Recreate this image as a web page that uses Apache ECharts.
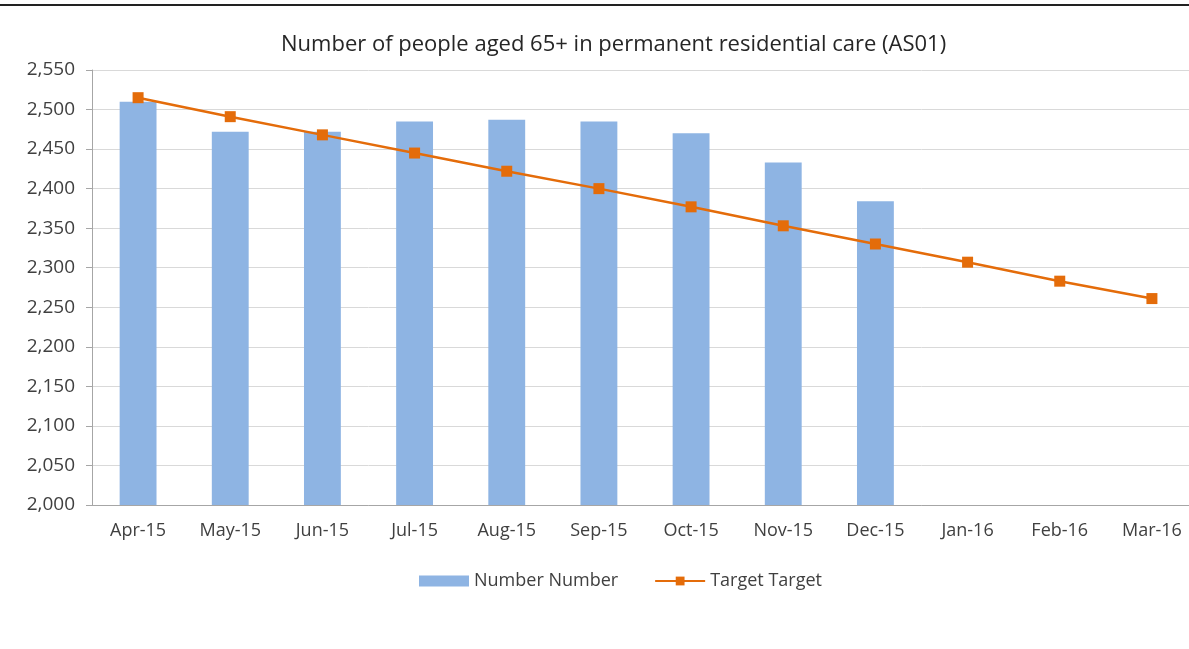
<!DOCTYPE html>
<html>
<head>
<meta charset="utf-8">
<script src="https://cdn.jsdelivr.net/npm/echarts@6/dist/echarts.min.js"></script>
<style>
  html, body { margin: 0; padding: 0; background: #fff; overflow: hidden; }
  #chart { width: 1198px; height: 649px; }
  .topline { position: absolute; left: 0; top: 4px; width: 1189px; height: 2px; background: #222; z-index: 2; }
</style>
</head>
<body>
<div class="topline"></div>
<div id="chart"></div>
<script>
const months = ['Apr-15', 'May-15', 'Jun-15', 'Jul-15', 'Aug-15', 'Sep-15', 'Oct-15', 'Nov-15', 'Dec-15', 'Jan-16', 'Feb-16', 'Mar-16']
const numberValues = [2510, 2472, 2472, 2485, 2487, 2485, 2470, 2433, 2384, null, null, null]
const targetValues = [2515, 2491, 2468, 2445, 2422, 2400, 2377, 2353, 2330, 2307, 2283, 2261]

const font = '"Open Sans", "Noto Sans", sans-serif'
const chart = echarts.init(document.getElementById('chart'))

chart.setOption({
  animation: false,
  title: {
    text: 'Number of people aged 65+ in permanent residential care (AS01)',
    left: 276,
    top: 29,
    textStyle: { fontFamily: font, fontSize: 22, fontWeight: 'normal', color: '#262626' },
  },
  legend: {
    top: 567,
    left: 414,
    itemGap: 36,
    itemWidth: 50,
    itemHeight: 11,
    textStyle: { fontFamily: font, fontSize: 18, color: '#404040' },
    data: [
      { name: 'Number Number', icon: 'rect' },
      { name: 'Target Target' },
    ],
  },
  grid: { left: 92, right: 0, top: 70, bottom: 144 },
  xAxis: {
    type: 'category',
    data: months,
    axisLine: { lineStyle: { color: '#a6a6a6' } },
    axisTick: { length: 6, lineStyle: { color: '#a6a6a6' } },
    axisLabel: { fontFamily: font, fontSize: 18, color: '#404040', margin: 17 },
  },
  yAxis: {
    type: 'value',
    min: 2000,
    max: 2550,
    interval: 50,
    axisLine: { show: true, lineStyle: { color: '#a6a6a6' } },
    axisTick: { show: true, length: 6, lineStyle: { color: '#a6a6a6' } },
    axisLabel: {
      fontFamily: font,
      fontSize: 19,
      color: '#404040',
      margin: 17,
      formatter: (v) => v.toLocaleString('en-US'),
    },
    splitLine: { lineStyle: { color: '#d9d9d9' } },
  },
  series: [
    {
      name: 'Number Number',
      type: 'bar',
      data: numberValues,
      barWidth: '40%',
      itemStyle: { color: '#8eb4e3' },
    },
    {
      name: 'Target Target',
      type: 'line',
      data: targetValues,
      symbol: 'rect',
      symbolSize: 11,
      lineStyle: { color: '#e46c0a', width: 2.5 },
      itemStyle: { color: '#e46c0a' },
    },
  ],
})
</script>
</body>
</html>
